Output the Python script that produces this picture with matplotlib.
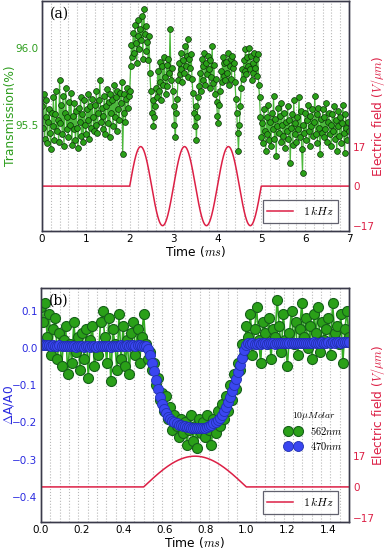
import numpy as np
import matplotlib
matplotlib.use('Agg')
import matplotlib.pyplot as plt

plt.rcParams['mathtext.fontset'] = 'cm'
plt.rcParams['font.family'] = ['DejaVu Sans']

# ---------------- data: panel (a) ----------------
time_a_step = 0.02
transmission = [
    95.62, 95.48, 95.70, 95.41, 95.55, 95.66, 95.38, 95.52, 95.60, 95.45,
    95.34, 95.58, 95.49, 95.68, 95.40, 95.57, 95.72, 95.46, 95.53, 95.39,
    95.79, 95.51, 95.63, 95.44, 95.69, 95.36, 95.58, 95.74, 95.47, 95.55,
    95.42, 95.65, 95.50, 95.71, 95.37, 95.56, 95.47, 95.64, 95.40, 95.59,
    95.48, 95.35, 95.61, 95.52, 95.68, 95.43, 95.57, 95.39, 95.66, 95.50,
    95.44, 95.60, 95.53, 95.70, 95.41, 95.62, 95.48, 95.67, 95.55, 95.46,
    95.63, 95.50, 95.72, 95.45, 95.58, 95.66, 95.79, 95.52, 95.61, 95.47,
    95.56, 95.69, 95.44, 95.62, 95.73, 95.51, 95.65, 95.42, 95.70, 95.58,
    95.66, 95.49, 95.76, 95.55, 95.68, 95.46, 95.72, 95.60, 95.53, 95.71,
    95.64, 95.78, 95.31, 95.58, 95.70, 95.52, 95.67, 95.74, 95.61, 95.69,
    95.72, 95.88, 96.02, 95.94, 96.10, 95.97, 96.15, 96.03, 95.90, 96.08,
    96.18, 95.99, 96.12, 96.05, 96.21, 95.93, 96.25, 96.09, 96.14, 95.98,
    96.04, 95.92, 96.08, 95.84, 95.72, 95.58, 95.66, 95.49, 95.55, 95.62,
    95.74, 95.68, 95.85, 95.72, 95.91, 95.78, 95.66, 95.88, 95.76, 95.94,
    95.81, 95.70, 95.89, 95.75, 95.93, 95.84, 96.12, 95.79, 95.87, 95.72,
    95.62, 95.50, 95.42, 95.58, 95.67, 95.79, 95.90, 95.83, 95.97, 95.86,
    95.78, 95.92, 95.84, 96.01, 95.88, 95.95, 96.06, 95.81, 95.93, 95.87,
    95.96, 95.80, 95.71, 95.58, 95.49, 95.62, 95.40, 95.55, 95.68, 95.75,
    95.84, 95.72, 95.93, 95.79, 95.88, 95.97, 95.76, 95.90, 95.83, 95.95,
    95.86, 95.74, 95.92, 95.81, 96.01, 95.77, 95.89, 95.70, 95.80, 95.65,
    95.56, 95.51, 95.63, 95.72, 95.85, 95.78, 95.94, 95.82, 95.90, 95.79,
    95.91, 95.84, 95.97, 95.76, 95.88, 95.93, 95.80, 95.95, 95.87, 95.90,
    95.78, 95.67, 95.58, 95.45, 95.33, 95.50, 95.62, 95.74, 95.86, 95.80,
    95.92, 95.85, 95.99, 95.83, 95.94, 95.88, 96.00, 95.86, 95.95, 95.79,
    95.90, 95.84, 95.97, 95.87, 95.93, 95.82, 95.96, 95.76, 95.68, 95.55,
    95.42, 95.51, 95.38, 95.60, 95.46, 95.33, 95.55, 95.44, 95.63, 95.40,
    95.52, 95.36, 95.58, 95.47, 95.69, 95.41, 95.54, 95.30, 95.49, 95.61,
    95.45, 95.56, 95.39, 95.64, 95.50, 95.43, 95.58, 95.35, 95.52, 95.46,
    95.62, 95.41, 95.53, 95.25, 95.48, 95.57, 95.37, 95.66, 95.44, 95.51,
    95.39, 95.55, 95.47, 95.68, 95.42, 95.59, 95.34, 95.19, 95.50, 95.45,
    95.58, 95.40, 95.53, 95.63, 95.46, 95.36, 95.56, 95.49, 95.60, 95.43,
    95.52, 95.69, 95.44, 95.57, 95.38, 95.61, 95.48, 95.31, 95.54, 95.45,
    95.60, 95.42, 95.55, 95.47, 95.64, 95.39, 95.52, 95.58, 95.44, 95.50,
    95.36, 95.57, 95.46, 95.62, 95.41, 95.53, 95.33, 95.49, 95.59, 95.43,
    95.55, 95.38, 95.51, 95.63, 95.45, 95.32, 95.57, 95.48, 95.40, 95.52,
    95.46,
]
field_amp = 17.0          # V/um
field_freq = 1.0          # kHz
field_on_a = (2.0, 5.0)   # ms
field_on_b = (0.5, 1.0)   # ms

xticks_a = [0, 1, 2, 3, 4, 5, 6, 7]
yticks_a = [95.5, 96.0]
field_ticks = [-17, 0, 17]

# ---------------- data: panel (b) ----------------
time_b_step = 0.01
absorb_470 = [
    0.010, 0.009, 0.008, 0.007, 0.008, 0.006, 0.007, 0.005, 0.006, 0.007,
    0.006, 0.005, 0.004, 0.006, 0.005, 0.004, 0.005, 0.003, 0.004, 0.005,
    0.004, 0.003, 0.005, 0.004, 0.002, 0.004, 0.005, 0.003, 0.004, 0.006,
    0.005, 0.004, 0.006, 0.005, 0.003, 0.005, 0.006, 0.004, 0.005, 0.007,
    0.006, 0.005, 0.007, 0.006, 0.008, 0.007, 0.006, 0.008, 0.007, 0.006,
    0.006, 0.004, -0.004, -0.020, -0.040, -0.062, -0.086, -0.110, -0.132, -0.150,
    -0.164, -0.176, -0.185, -0.191, -0.196, -0.200, -0.203, -0.206, -0.208, -0.210,
    -0.211, -0.212, -0.213, -0.214, -0.215, -0.215, -0.216, -0.216, -0.215, -0.215,
    -0.214, -0.212, -0.210, -0.207, -0.203, -0.199, -0.194, -0.188, -0.180, -0.170,
    -0.159, -0.146, -0.132, -0.117, -0.101, -0.084, -0.066, -0.047, -0.027, -0.006,
    0.008, 0.012, 0.011, 0.012, 0.010, 0.011, 0.012, 0.011, 0.013, 0.012,
    0.011, 0.012, 0.013, 0.012, 0.011, 0.013, 0.012, 0.013, 0.012, 0.014,
    0.013, 0.012, 0.013, 0.014, 0.012, 0.013, 0.014, 0.013, 0.012, 0.014,
    0.013, 0.014, 0.013, 0.015, 0.014, 0.013, 0.014, 0.015, 0.014, 0.013,
    0.015, 0.014, 0.015, 0.014, 0.016, 0.015, 0.014, 0.015, 0.016, 0.015,
    0.015,
]
absorb_562 = [
    0.11, 0.07, 0.12, 0.03, 0.09, -0.02, 0.05, 0.08, -0.03, 0.04,
    -0.05, 0.02, 0.06, -0.07, 0.01, -0.04, 0.07, -0.01, 0.03, -0.06,
    0.04, -0.03, 0.05, -0.08, 0.02, 0.06, -0.05, 0.00, -0.02, 0.07,
    0.10, 0.03, -0.04, 0.08, -0.09, 0.05, 0.01, -0.06, 0.09, -0.03,
    0.06, -0.05, 0.02, -0.07, 0.04, 0.07, -0.02, 0.05, -0.04, 0.03,
    0.09, 0.01, -0.03, -0.01, -0.06, -0.04, -0.10, -0.08, -0.14, -0.12,
    -0.17, -0.13, -0.19, -0.16, -0.22, -0.18, -0.21, -0.24, -0.19, -0.23,
    -0.20, -0.26, -0.22, -0.18, -0.25, -0.21, -0.27, -0.19, -0.23, -0.20,
    -0.24, -0.18, -0.22, -0.26, -0.19, -0.23, -0.17, -0.21, -0.15, -0.19,
    -0.13, -0.17, -0.10, -0.14, -0.07, -0.11, -0.04, -0.06, 0.01, -0.02,
    0.06, 0.03, 0.09, -0.02, 0.05, 0.11, 0.02, -0.04, 0.07, 0.04,
    0.01, 0.08, -0.03, 0.05, 0.03, 0.13, 0.06, -0.01, 0.09, 0.02,
    -0.05, 0.04, 0.10, 0.01, 0.07, -0.02, 0.05, 0.12, 0.03, 0.08,
    0.00, 0.06, -0.03, 0.09, 0.04, 0.11, -0.01, 0.07, 0.02, 0.05,
    0.08, -0.02, 0.12, 0.04, 0.06, 0.01, 0.09, -0.04, 0.05, 0.10,
    0.03,
]
xticks_b = [0.0, 0.2, 0.4, 0.6, 0.8, 1.0, 1.2, 1.4]
yticks_b = [0.1, 0.0, -0.1, -0.2, -0.3, -0.4]

# ---------------- styling ----------------
GREEN_TXT = '#2e9e1e'
BLUE_TXT = '#2a2ae0'
RED = '#dc1f45'
SPINE = '#3a3a4a'
GRID = '#b8b8b8'
LABEL_FS = 8.8
TICK_FS = 7.5
MINUS = '\u2212'

t_a = np.arange(len(transmission)) * time_a_step
t_b = np.arange(len(absorb_470)) * time_b_step


def field(t, on):
    t = np.asarray(t)
    inside = (t >= on[0]) & (t <= on[1])
    return np.where(inside, field_amp * np.sin(2 * np.pi * field_freq * (t - on[0])), 0.0)


def fmt_int(v):
    return (MINUS + str(abs(v))) if v < 0 else str(v)


def fmt_1(v):
    return (MINUS + '%.1f' % abs(v)) if v < 0 else '%.1f' % v


def style_axes(ax, tw):
    for a in (ax, tw):
        for s in a.spines.values():
            s.set_color(SPINE)
            s.set_linewidth(1.0)
    ax.tick_params(axis='both', length=0, labelsize=TICK_FS, pad=2.5)
    tw.tick_params(axis='y', length=0, labelsize=TICK_FS, pad=3, colors=RED)


fig = plt.figure(figsize=(3.89, 5.49), dpi=100)

# ---- panel (a)
ax1_left, ax1_w = 42, 307
ax1 = fig.add_axes([ax1_left / 389, 1 - 231 / 549, ax1_w / 389, 230 / 549])
ax1.plot(t_a, transmission, '-', color='#4cb83c', lw=0.9, zorder=2)
ax1.plot(t_a, transmission, 'o', ms=4.2, mfc='#2aa018', mec='#0d300a', mew=0.5,
         zorder=3)
ax1.set_xlim(0, 7)
ax1.set_ylim(94.81, 96.305)
ax1.set_xticks(xticks_a)
ax1.set_yticks(yticks_a)
ax1.set_yticklabels([fmt_1(v) for v in yticks_a])
ax1.set_xticks(np.arange(0.2, 7.0, 0.2), minor=True)
ax1.tick_params(axis='x', which='minor', length=0)
ax1.grid(True, which='both', axis='x', color=GRID, ls=':', lw=0.8)
ax1.set_axisbelow(True)
ax1.tick_params(axis='y', colors=GREEN_TXT)
ax1.set_ylabel('Transmission(%)', color=GREEN_TXT, fontsize=LABEL_FS)
ax1.yaxis.set_label_coords((17 - ax1_left) / ax1_w, 0.5)
ax1.set_xlabel('Time ($ms$)', fontsize=LABEL_FS, labelpad=0)
ax1.text(0.025, 0.975, '(a)', transform=ax1.transAxes, ha='left', va='top',
         fontsize=10, family='DejaVu Serif')

tw1 = ax1.twinx()
ta_f = np.linspace(0, 7, 1401)
tw1.plot(ta_f, field(ta_f, field_on_a), color=RED, lw=1.1, label='$1\\,kHz$')
tw1.set_ylim(-19.3, 79.6)
tw1.set_yticks(field_ticks)
tw1.set_yticklabels([fmt_int(v) for v in field_ticks])
tw1.set_ylabel('Electric field ($V/\\mu m$)', color=RED, fontsize=LABEL_FS)
tw1.yaxis.set_label_coords((369 - ax1_left) / ax1_w, 0.5)
leg = tw1.legend(loc='lower right', fontsize=8.5, frameon=True, fancybox=False,
                 edgecolor=SPINE, borderpad=0.4, handlelength=2.2,
                 bbox_to_anchor=(0.985, 0.01))
leg.get_frame().set_linewidth(0.9)
style_axes(ax1, tw1)

# ---- panel (b)
ax2_left, ax2_w = 41, 308
ax2 = fig.add_axes([ax2_left / 389, 1 - 522 / 549, ax2_w / 389, 234 / 549])
l562, = ax2.plot(t_b, absorb_562, '-o', color='#33aa22', lw=1.2, ms=7.2,
                 mfc='#2aa018', mec='#16601a', mew=0.8, zorder=3, label='$562nm$')
l470, = ax2.plot(t_b, absorb_470, '-o', color='#3344ee', lw=1.2, ms=7.2,
                 mfc='#3a46f0', mec='#2030b0', mew=0.6, zorder=4, label='$470nm$')
ax2.set_xlim(0, 1.5)
ax2.set_ylim(-0.468, 0.161)
ax2.set_xticks(xticks_b)
ax2.set_xticklabels([fmt_1(v) for v in xticks_b])
ax2.set_yticks(yticks_b)
ax2.set_yticklabels([fmt_1(v) for v in yticks_b])
ax2.set_xticks(np.arange(1, 33) * (1.5 / 33), minor=True)
ax2.tick_params(axis='x', which='minor', length=0)
ax2.grid(True, which='minor', axis='x', color=GRID, ls=':', lw=0.8)
ax2.set_axisbelow(True)
ax2.tick_params(axis='y', colors=BLUE_TXT)
ax2.set_ylabel('$\\Delta$A/A0', color=BLUE_TXT, fontsize=LABEL_FS)
ax2.yaxis.set_label_coords((16 - ax2_left) / ax2_w, 0.5)
ax2.set_xlabel('Time ($ms$)', fontsize=LABEL_FS, labelpad=0)
ax2.text(0.025, 0.975, '(b)', transform=ax2.transAxes, ha='left', va='top',
         fontsize=10, family='DejaVu Serif', zorder=6)
leg2 = ax2.legend(handles=[l562, l470], loc='center right', frameon=False,
                  fontsize=7.5, numpoints=2, handlelength=1.6,
                  title='$10\\mu Molar$', title_fontsize=7,
                  bbox_to_anchor=(1.0, 0.39), labelspacing=0.3,
                  borderaxespad=0.2)

tw2 = ax2.twinx()
tb_f = np.linspace(0, 1.5, 1501)
tw2.plot(tb_f, field(tb_f, field_on_b), color=RED, lw=1.1, label='$1\\,kHz$')
tw2.set_ylim(-19.4, 110)
tw2.set_yticks(field_ticks)
tw2.set_yticklabels([fmt_int(v) for v in field_ticks])
tw2.set_ylabel('Electric field ($V/\\mu m$)', color=RED, fontsize=LABEL_FS)
tw2.yaxis.set_label_coords((369 - ax2_left) / ax2_w, 0.5)
leg3 = tw2.legend(loc='lower right', fontsize=8.5, frameon=True, fancybox=False,
                  edgecolor=SPINE, borderpad=0.4, handlelength=2.2,
                  bbox_to_anchor=(0.985, 0.01))
leg3.get_frame().set_linewidth(0.9)
style_axes(ax2, tw2)

fig.savefig('out.png', dpi=100)
